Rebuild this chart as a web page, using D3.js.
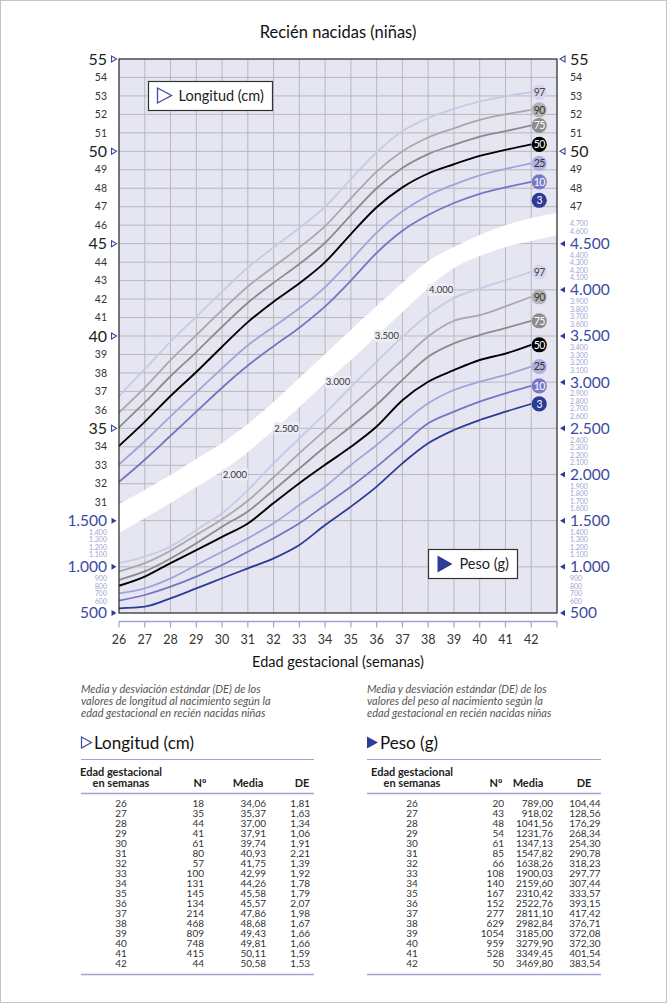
<!DOCTYPE html>
<html><head><meta charset="utf-8">
<script src="https://cdn.jsdelivr.net/npm/d3@7"></script>
<style>
body{margin:0;background:#fff;}
svg{display:block;font-family:Lato,"Open Sans",sans-serif;}
</style></head><body>
<svg id="c" width="667" height="1003"></svg>
<script>
// ---------- DATA ----------
const weeks = [26,27,28,29,30,31,32,33,34,35,36,37,38,39,40,41,42];
const percentiles = [97,90,75,50,25,10,3];

// Length percentiles (cm)
const lengthP97 = [36.75,38.2,39.7,41.05,42.4,43.7,44.8,45.85,47.0,48.5,49.95,51.1,51.8,52.3,52.7,52.98,53.2];
const lengthP90 = [35.85,37.2,38.7,40.05,41.4,42.68,43.75,44.8,45.95,47.45,48.9,50.0,50.75,51.25,51.7,52.0,52.25];
const lengthP75 = [35.05,36.4,37.82,39.13,40.5,41.8,42.88,43.9,45.05,46.55,48.0,49.1,49.85,50.35,50.8,51.1,51.4];
const lengthP50 = [34.05,35.35,36.75,38.05,39.42,40.75,41.86,42.85,44.0,45.52,46.97,48.05,48.8,49.3,49.75,50.08,50.38];
const lengthP25 = [33.05,34.3,35.65,36.95,38.25,39.5,40.5,41.5,42.65,44.1,45.6,46.75,47.6,48.2,48.7,49.05,49.35];
const lengthP10 = [32.1,33.3,34.6,35.9,37.2,38.4,39.45,40.45,41.6,43.0,44.5,45.7,46.55,47.2,47.7,48.05,48.35];
const lengthP3Label = 47.35; // 3rd percentile marker (no curve drawn)

// Weight percentiles (g)
const weightP97 = [1040,1110,1220,1400,1580,1830,2120,2390,2660,2950,3220,3490,3730,3910,4015,4105,4195];
const weightP90 = [950,1040,1175,1345,1515,1715,1970,2230,2480,2735,2985,3240,3495,3665,3725,3820,3925];
const weightP75 = [860,950,1090,1255,1435,1600,1830,2065,2300,2520,2755,3025,3275,3420,3510,3585,3665];
const weightP50 = [795,895,1040,1180,1325,1470,1690,1905,2105,2300,2520,2805,3005,3130,3240,3310,3405];
const weightP25 = [713,767,875,1020,1164,1309,1471,1670,1868,2103,2320,2554,2771,2915,3005,3078,3168];
const weightP10 = [634,695,785,894,1020,1164,1309,1471,1670,1868,2085,2320,2554,2681,2789,2879,2959];
const weightP3  = [551,569,659,767,876,984,1092,1237,1453,1652,1869,2121,2338,2482,2590,2680,2764];

// Separator band (cm units), weeks 26..43
const bandWeeks = [26,27,28,29,30,31,32,33,34,35,36,37,38,39,40,41,42,43];
const bandUpper = [30.9,31.66,32.47,33.34,34.21,35.23,36.43,37.73,39.03,40.33,41.62,42.87,44.06,44.82,45.47,46.0,46.39,46.66];
const bandLower = [29.33,30.15,30.96,31.82,32.69,33.72,34.91,36.16,37.46,38.7,40.0,41.3,42.6,43.68,44.33,44.82,45.14,45.47];
const bandLabelValues = [2000,2500,3000,3500,4000];
const bandLabelWeeks = [30.5,32.5,34.5,36.4,38.5];

// Axis ticks
const xTicks = [26,27,28,29,30,31,32,33,34,35,36,37,38,39,40,41,42];
const lengthTicksLeft = d3.range(31,56);
const lengthTicksRight = d3.range(47,56);
const weightTicksLeft = d3.range(500,1501,100);
const weightTicksRight = d3.range(500,4701,100);
const lengthGrid = d3.range(31,55);
const weightGrid = [1000,1500,2000,2500,3000,3500,4000,4500];

// Tables
const lenN = [18,35,44,41,61,80,57,100,131,145,134,214,468,809,748,415,44];
const lenMean = [34.06,35.37,37.00,37.91,39.74,40.93,41.75,42.99,44.26,45.58,45.57,47.86,48.68,49.43,49.81,50.11,50.58];
const lenSD = [1.81,1.63,1.34,1.06,1.91,2.21,1.39,1.92,1.78,1.79,2.07,1.98,1.67,1.66,1.66,1.59,1.53];
const wN = [20,43,48,54,61,85,66,108,140,167,152,277,629,1054,959,528,50];
const wMean = [789.00,918.02,1041.56,1231.76,1347.13,1547.82,1638.26,1900.03,2159.60,2310.42,2522.76,2811.10,2982.84,3185.00,3279.90,3349.45,3469.80];
const wSD = [104.44,128.56,176.29,268.34,254.30,290.78,318.23,297.77,307.44,333.57,393.15,417.42,376.71,372.08,372.30,401.54,383.54];

// ---------- STYLE ----------
const style = {
  97:{line:"#c9c9e7", fill:"#d6d6ee", text:"#444"},
  90:{line:"#a9a9a9", fill:"#b3b3b3", text:"#333"},
  75:{line:"#8b8b8b", fill:"#8d8d8d", text:"#fff"},
  50:{line:"#000000", fill:"#000000", text:"#fff"},
  25:{line:"#a3a3db", fill:"#b1b1e1", text:"#333"},
  10:{line:"#7575c4", fill:"#7878c8", text:"#fff"},
  3: {line:"#2b3b97", fill:"#2b3b97", text:"#fff"}
};
const lengthSeries = {97:lengthP97,90:lengthP90,75:lengthP75,50:lengthP50,25:lengthP25,10:lengthP10};
const weightSeries = {97:weightP97,90:weightP90,75:weightP75,50:weightP50,25:weightP25,10:weightP10,3:weightP3};

const BLUE = "#3b4aa3", BLUEF="#2d3c99", LIGHTBLUE="#a3a3d1", LILAC="#a2a2d4";
const loc = d3.formatLocale({decimal:",", thousands:".", grouping:[3], currency:["",""]});
const fK = loc.format(",");
const f2 = loc.format(".2f");

// ---------- DRAW ----------
const svg = d3.select("#c");
svg.append("rect").attr("x",0.5).attr("y",0.5).attr("width",666).attr("height",1002)
  .attr("fill","#fff").attr("stroke","#c4c4c4");

const x = d3.scaleLinear().domain([26,43]).range([119,557]);
const y = d3.scaleLinear().domain([25,55]).range([613,59]);
const yw = d3.scaleLinear().domain([500,6500]).range([613,59]);

svg.append("text").attr("x",338).attr("y",38).attr("text-anchor","middle")
  .attr("font-size",16.5).attr("fill","#111").text("Recién nacidas (niñas)");

const defs = svg.append("defs");
const bandMid = bandUpper.map((u,i)=>(u+bandLower[i])/2);
defs.append("clipPath").attr("id","clipTop").append("path")
  .attr("d", d3.area().x((d,i)=>x(bandWeeks[i])).y0(y(55)).y1(d=>y(d)).curve(d3.curveMonotoneX)(bandMid));
defs.append("clipPath").attr("id","clipBot").append("path")
  .attr("d", d3.area().x((d,i)=>x(bandWeeks[i])).y0(d=>y(d)).y1(y(25)).curve(d3.curveMonotoneX)(bandMid));

const plot = svg.append("g");
plot.append("rect").attr("x",x(26)).attr("y",y(55)).attr("width",x(43)-x(26)).attr("height",y(25)-y(55))
  .attr("fill","#e6e6f2");

const gridColor = "#b8b8be";
plot.append("g").selectAll("line").data(d3.range(27,43)).join("line")
  .attr("x1",d=>x(d)).attr("x2",d=>x(d)).attr("y1",y(55)).attr("y2",y(25))
  .attr("stroke",gridColor).attr("stroke-width",1);
plot.append("g").attr("clip-path","url(#clipTop)").selectAll("line").data(lengthGrid).join("line")
  .attr("x1",x(26)).attr("x2",x(43)).attr("y1",d=>y(d)).attr("y2",d=>y(d))
  .attr("stroke",gridColor).attr("stroke-width",1);
plot.append("g").attr("clip-path","url(#clipBot)").selectAll("line").data(weightGrid).join("line")
  .attr("x1",x(26)).attr("x2",x(43)).attr("y1",d=>yw(d)).attr("y2",d=>yw(d))
  .attr("stroke",gridColor).attr("stroke-width",1);

// white band
plot.append("path")
  .attr("d", d3.area().x((d,i)=>x(bandWeeks[i])).y0((d,i)=>y(bandLower[i])).y1((d,i)=>y(bandUpper[i])).curve(d3.curveMonotoneX)(bandWeeks))
  .attr("fill","#fff");

// band labels
const bl = plot.append("g").selectAll("g").data(bandLabelValues).join("g")
  .attr("transform",(d,i)=>`translate(${x(bandLabelWeeks[i])},${yw(d)})`);
bl.append("rect").attr("x",-13).attr("y",-6).attr("width",26).attr("height",12).attr("fill","#ececf5");
bl.append("text").attr("text-anchor","middle").attr("dy","0.35em").attr("font-size",9.5).attr("fill","#333")
  .text(d=>fK(d));

// curves
const lineL = d3.line().x((d,i)=>x(weeks[i])).y(d=>y(d)).curve(d3.curveMonotoneX);
const lineW = d3.line().x((d,i)=>x(weeks[i])).y(d=>yw(d)).curve(d3.curveMonotoneX);
percentiles.forEach(p=>{
  if(lengthSeries[p]) plot.append("path").attr("d",lineL(lengthSeries[p])).attr("fill","none")
    .attr("stroke",style[p].line).attr("stroke-width",p===50?1.9:1.8);
  plot.append("path").attr("d",lineW(weightSeries[p])).attr("fill","none")
    .attr("stroke",style[p].line).attr("stroke-width",p===50?1.9:1.8);
});

// percentile markers
const cx = x(42)+8;
function marker(p, yy){
  const g = plot.append("g").attr("transform",`translate(${cx},${yy})`);
  g.append("circle").attr("r",7.6).attr("fill",style[p].fill);
  g.append("text").attr("text-anchor","middle").attr("dy","0.36em").attr("font-size",10.5)
    .attr("letter-spacing",-0.6).attr("fill",style[p].text).text(p);
}
percentiles.forEach(p=>{
  const lv = lengthSeries[p] ? lengthSeries[p][lengthSeries[p].length-1] : lengthP3Label;
  marker(p, y(lv));
  marker(p, yw(weightSeries[p][weightSeries[p].length-1]));
});

// plot border
plot.append("rect").attr("x",x(26)).attr("y",y(55)).attr("width",x(43)-x(26)).attr("height",y(25)-y(55))
  .attr("fill","none").attr("stroke","#222").attr("stroke-width",1.2);

// legend boxes
const lg1 = svg.append("g").attr("transform","translate(148.5,81.5)");
lg1.append("rect").attr("width",124).attr("height",29).attr("fill","#fff").attr("stroke","#333").attr("stroke-width",1.2);
lg1.append("path").attr("d","M9,6.5 L9,21.5 L23,14 Z").attr("fill","none").attr("stroke",BLUE).attr("stroke-width",1.3);
lg1.append("text").attr("x",30).attr("y",19.5).attr("font-size",14.5).attr("fill","#222").text("Longitud (cm)");
const lg2 = svg.append("g").attr("transform","translate(428.5,549.5)");
lg2.append("rect").attr("width",89).attr("height",29).attr("fill","#fff").attr("stroke","#333").attr("stroke-width",1.2);
lg2.append("path").attr("d","M9,6 L9,23 L24,14.5 Z").attr("fill",BLUEF);
lg2.append("text").attr("x",31).attr("y",19.5).attr("font-size",14.5).attr("fill","#222").text("Peso (g)");

// ---------- Y AXES ----------
const ax = svg.append("g");
function triR(xx,yy,filled){ // pointing right
  ax.append("path").attr("d",`M${xx},${yy-3} L${xx},${yy+3} L${xx+5},${yy} Z`)
    .attr("fill",filled?BLUEF:"none").attr("stroke",filled?"none":BLUE).attr("stroke-width",1.1);
}
function triL(xx,yy,filled){ // pointing left
  ax.append("path").attr("d",`M${xx+5},${yy-3} L${xx+5},${yy+3} L${xx},${yy} Z`)
    .attr("fill",filled?BLUEF:"none").attr("stroke",filled?"none":BLUE).attr("stroke-width",1.1);
}
function minorWeightY(v){
  if (v > 4500) return yw(4500) - 12.5 - (v-4600)/100*8;
  const major = Math.ceil(v/500)*500;
  const k = (major - v)/100 - 1;
  return yw(major) + 11.8 + k*7.5;
}
// left length
lengthTicksLeft.forEach(v=>{
  const major = v%5===0;
  ax.append("text").attr("x",107).attr("y",y(v)).attr("dy","0.35em").attr("text-anchor","end")
    .attr("font-size",major?16:10.5).attr("fill",major?"#222":"#333").text(v);
  if(major) triR(111.5,y(v),false);
});
// right length
lengthTicksRight.forEach(v=>{
  const major = v%5===0;
  ax.append("text").attr("x",570).attr("y",y(v)).attr("dy","0.35em").attr("text-anchor","start")
    .attr("font-size",major?16:10.5).attr("fill",major?"#222":"#333").text(v);
  if(major) triL(560,y(v),false);
});
// left weight
weightTicksLeft.forEach(v=>{
  const major = v%500===0;
  const yy = major ? yw(v) : minorWeightY(v);
  ax.append("text").attr("x",107).attr("y",yy).attr("dy","0.35em").attr("text-anchor","end")
    .attr("font-size",major?15.5:7).attr("fill",major?BLUE:LIGHTBLUE).text(fK(v));
  if(major) triR(111.5,yw(v),true);
});
// right weight
weightTicksRight.forEach(v=>{
  const major = v%500===0;
  const yy = major ? yw(v) : minorWeightY(v);
  ax.append("text").attr("x",570).attr("y",yy).attr("dy","0.35em").attr("text-anchor","start")
    .attr("font-size",major?15.5:7).attr("fill",major?BLUE:LIGHTBLUE).text(fK(v));
  if(major) triL(560,yw(v),true);
});

// ---------- X AXIS ----------
const xa = svg.append("g").attr("transform","translate(0,621.5)");
xa.append("line").attr("x1",x(26)).attr("x2",x(43)).attr("stroke",LILAC).attr("stroke-width",1.5);
xa.selectAll("line.t").data(d3.range(26,44)).join("line").attr("class","t")
  .attr("x1",d=>x(d)).attr("x2",d=>x(d)).attr("y1",0).attr("y2",6).attr("stroke",LILAC).attr("stroke-width",1.2);
xa.selectAll("text").data(xTicks).join("text").attr("x",d=>x(d)).attr("y",22).attr("text-anchor","middle")
  .attr("font-size",12.5).attr("fill","#333").text(d=>d);
svg.append("text").attr("x",338).attr("y",667).attr("text-anchor","middle").attr("font-size",14.5)
  .attr("fill","#111").text("Edad gestacional (semanas)");

// ---------- TABLES ----------
function table(opt){
  const g = svg.append("g");
  opt.caption.forEach((t,i)=>g.append("text").attr("x",opt.x0).attr("y",693+i*12)
    .attr("font-size",11).attr("font-style","italic").attr("fill","#555").text(t));
  if(opt.filled) g.append("path").attr("d",`M${opt.x0},736.5 L${opt.x0},748.5 L${opt.x0+11},742.5 Z`).attr("fill",BLUEF);
  else g.append("path").attr("d",`M${opt.x0+0.5},737 L${opt.x0+0.5},748 L${opt.x0+10.5},742.5 Z`).attr("fill","none").attr("stroke",BLUE).attr("stroke-width",1.2);
  g.append("text").attr("x",opt.x0+13).attr("y",748.5).attr("font-size",17).attr("fill","#111").text(opt.title);
  [759.5,793.5,974.5].forEach((yy,i)=>g.append("line").attr("x1",opt.x0).attr("x2",opt.x1)
    .attr("y1",yy).attr("y2",yy).attr("stroke",LILAC).attr("stroke-width",i===0?1.2:1.6));
  const hs = {"font-size":11,"font-weight":700,"fill":"#222"};
  const ht = (t,xx,yy)=>{const e=g.append("text").attr("x",xx).attr("y",yy).attr("text-anchor","middle").text(t);
    Object.entries(hs).forEach(([k,v])=>e.attr(k,v));};
  ht("Edad gestacional",opt.cWeek,776); ht("en semanas",opt.cWeek,787);
  ht("Nº",opt.hN,787); ht("Media",opt.hMean,787); ht("DE",opt.hSD,787);
  const ry = d3.scalePoint().domain(weeks).range([803,963]);
  weeks.forEach((w,i)=>{
    const yy = ry(w)+3.5;
    const t=(s,xx,anc)=>g.append("text").attr("x",xx).attr("y",yy).attr("text-anchor",anc)
      .attr("font-size",10).attr("fill","#333").text(s);
    t(w,opt.cWeek,"middle"); t(opt.n[i],opt.rN,"end"); t(f2(opt.mean[i]),opt.rMean,"end"); t(f2(opt.sd[i]),opt.rSD,"end");
  });
}
table({x0:81,x1:314,filled:false,title:"Longitud (cm)",
  caption:["Media y desviación estándar (DE) de los","valores de longitud al nacimiento según la","edad gestacional en recién nacidas niñas"],
  cWeek:121,hN:200,hMean:248,hSD:302,rN:204,rMean:266,rSD:310,n:lenN,mean:lenMean,sd:lenSD});
table({x0:367,x1:601,filled:true,title:"Peso (g)",
  caption:["Media y desviación estándar (DE) de los","valores del peso al nacimiento según la","edad gestacional en recién nacidas niñas"],
  cWeek:412,hN:496,hMean:528,hSD:584,rN:504,rMean:553,rSD:600.5,n:wN,mean:wMean,sd:wSD});
</script>
</body></html>
